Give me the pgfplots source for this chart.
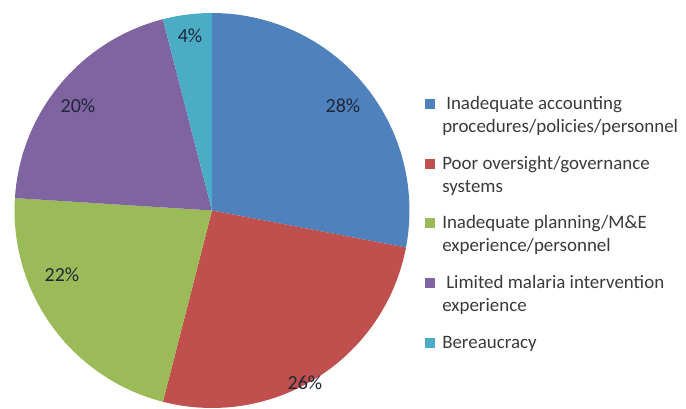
\documentclass[border=0pt]{standalone}
\usepackage{pgfplots}
\usepackage{pgfplotstable}
\usepackage{fontspec}
\setmainfont{Carlito}
\pgfplotsset{compat=1.18}
\definecolor{c0}{HTML}{4F81BD}
\definecolor{c1}{HTML}{C0504D}
\definecolor{c2}{HTML}{9BBB59}
\definecolor{c3}{HTML}{8064A2}
\definecolor{c4}{HTML}{4BACC6}
\definecolor{lbl}{HTML}{1E2838}
\definecolor{legtxt}{HTML}{3A3A3A}
\pgfplotstableread{
value lx ly
28 343 106
26 305 383
22 62 275
20 78 106
4 190 36
}\piedata
\begin{document}
\begin{tikzpicture}
\gdef\cumang{90}
\foreach \i in {0,...,4}{%
  \pgfplotstablegetelem{\i}{value}\of\piedata
  \pgfmathsetmacro\en{\cumang-3.6*\pgfplotsretval}%
  \expandafter\xdef\csname pieS\i\endcsname{\cumang}%
  \expandafter\xdef\csname pieE\i\endcsname{\en}%
  \expandafter\xdef\csname pieV\i\endcsname{\pgfplotsretval}%
  \pgfplotstablegetelem{\i}{lx}\of\piedata
  \expandafter\xdef\csname pieX\i\endcsname{\pgfplotsretval}%
  \pgfplotstablegetelem{\i}{ly}\of\piedata
  \expandafter\xdef\csname pieY\i\endcsname{\pgfplotsretval}%
  \xdef\cumang{\en}%
}
\begin{axis}[
  x=0.75pt, y=0.75pt,
  xmin=0, xmax=686, ymin=0, ymax=409,
  y dir=reverse,
  hide axis,
  clip=true,
]
\path (axis cs:0,0) rectangle (axis cs:686,409);
\pgfplotsinvokeforeach{0,...,4}{
  \fill[c#1] (axis cs:212,210.5) -- ++(\csname pieS#1\endcsname:148.1pt)
    arc[start angle=\csname pieS#1\endcsname, end angle=\csname pieE#1\endcsname, radius=148.1pt] -- cycle;
}
\pgfplotsinvokeforeach{0,...,4}{
  \node[text=lbl, inner sep=0pt, font=\fontsize{15}{18}\selectfont]
    at (axis cs:\csname pieX#1\endcsname,\csname pieY#1\endcsname) {\csname pieV#1\endcsname\%};
}
% legend
\fill[c0] (axis cs:425,99) rectangle (axis cs:435,109);
\fill[c1] (axis cs:425,159) rectangle (axis cs:435,169);
\fill[c2] (axis cs:425,218) rectangle (axis cs:435,228);
\fill[c3] (axis cs:425,278) rectangle (axis cs:435,288);
\fill[c4] (axis cs:425,338) rectangle (axis cs:435,348);
\begin{scope}[every node/.style={anchor=base west, inner sep=0pt, text=legtxt, font=\fontsize{14.2}{17}\selectfont}]
\node at (axis cs:446,110) {Inadequate accounting};
\node at (axis cs:442,133) {procedures/policies/personnel};
\node at (axis cs:442,170) {Poor oversight/governance};
\node at (axis cs:442,193) {systems};
\node at (axis cs:442,229) {Inadequate planning/M\&E};
\node at (axis cs:442,252) {experience/personnel};
\node at (axis cs:446,289) {Limited malaria intervention};
\node at (axis cs:442,312) {experience};
\node at (axis cs:442,349) {Bereaucracy};
\end{scope}
\end{axis}
\end{tikzpicture}
\end{document}
